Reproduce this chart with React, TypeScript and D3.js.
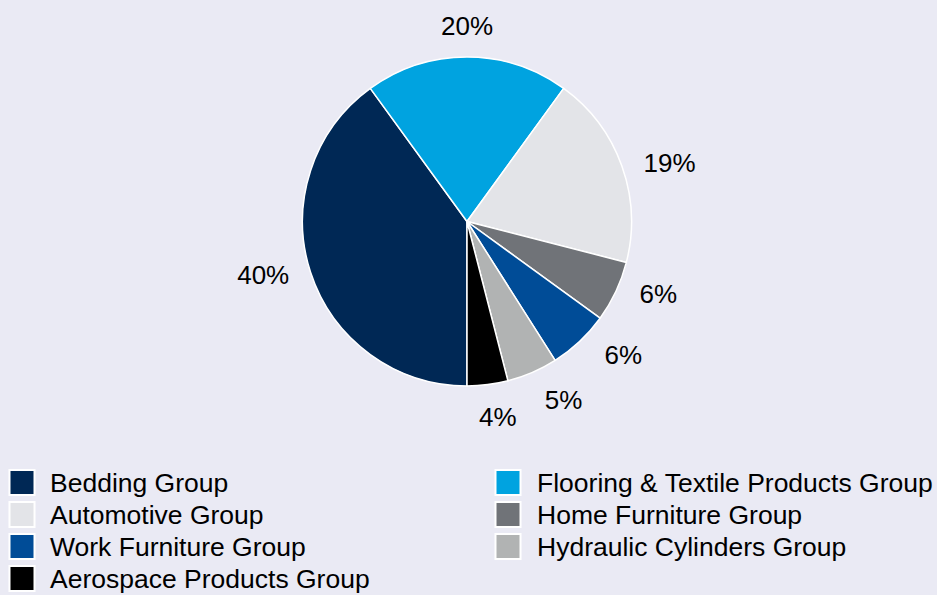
import React from "react";
import * as d3 from "d3";

const categories = [
  "Bedding Group",
  "Flooring & Textile Products Group",
  "Automotive Group",
  "Home Furniture Group",
  "Work Furniture Group",
  "Hydraulic Cylinders Group",
  "Aerospace Products Group",
];
const values = [40, 20, 19, 6, 6, 5, 4];
const colors = ["#002855", "#00A3E0", "#E3E4E8", "#707378", "#004C97", "#B1B3B3", "#000000"];

const W = 937;
const H = 595;
const FONT = "'Liberation Sans', Arial, sans-serif";
const FS = 26;
const LEGEND_FS = 26.5;

export default function App() {
  const cx = 467;
  const cy = 221.5;
  const r = 164.5;
  const labelDist = r + 17.5;
  const k = 1.25;

  const pie = d3
    .pie<number>()
    .sort(null)
    .value((d) => d)
    .startAngle(Math.PI)
    .endAngle(3 * Math.PI);
  const arcs = pie(values);
  const arcGen = d3.arc<d3.PieArcDatum<number>>().innerRadius(0).outerRadius(r);

  const labelPos = (a: d3.PieArcDatum<number>, text: string) => {
    const mid = (a.startAngle + a.endAngle) / 2;
    let ux = Math.sin(mid) * k;
    let uy = -Math.cos(mid);
    const n = Math.hypot(ux, uy);
    ux /= n;
    uy /= n;
    let digits = 0;
    for (const ch of text) if (ch >= "0" && ch <= "9") digits++;
    const hw = (FS * (0.556 * digits + 0.889)) / 2;
    const hh = 14;
    const nearest = (t: number) => {
      const x = ux * t;
      const y = uy * t;
      const nx = Math.max(Math.abs(x) - hw, 0);
      const ny = Math.max(Math.abs(y) - hh, 0);
      return Math.hypot(nx, ny);
    };
    let lo = 0;
    let hi = 500;
    for (let i = 0; i < 60; i++) {
      const m = (lo + hi) / 2;
      if (nearest(m) < labelDist) lo = m;
      else hi = m;
    }
    return { x: cx + ux * lo, y: cy + uy * lo };
  };

  const total = d3.sum(values);

  return (
    <div style={{ position: "fixed", left: 0, top: 0 }}>
      <svg width={W} height={H} style={{ display: "block", background: "#EAEAF4" }}>
        <rect x={0} y={0} width={W} height={H} fill="#EAEAF4" />
        <g transform={`translate(${cx},${cy})`}>
          {arcs.map((a, i) => (
            <path key={i} d={arcGen(a) || ""} fill={colors[i]} stroke="#FFFFFF" strokeWidth={1.5} strokeLinejoin="round" />
          ))}
        </g>
        {arcs.map((a, i) => {
          const text = `${Math.round((values[i] / total) * 100)}%`;
          const p = labelPos(a, text);
          return (
            <text
              key={i}
              x={p.x}
              y={p.y + FS * 0.358}
              textAnchor="middle"
              fontFamily={FONT}
              fontSize={FS}
              fill="#000"
            >
              {text}
            </text>
          );
        })}
        {categories.map((c, i) => {
          const col = i % 2;
          const row = Math.floor(i / 2);
          const sx = col === 0 ? 9.5 : 495.5;
          const tx = col === 0 ? 50 : 537;
          const sy = 470 + row * 32;
          return (
            <g key={c}>
              <rect x={sx} y={sy} width={25} height={25} fill={colors[i]} stroke="#FFFFFF" strokeWidth={2} />
              <text x={tx} y={492 + row * 32} fontFamily={FONT} fontSize={LEGEND_FS} fill="#000">
                {c}
              </text>
            </g>
          );
        })}
      </svg>
    </div>
  );
}
